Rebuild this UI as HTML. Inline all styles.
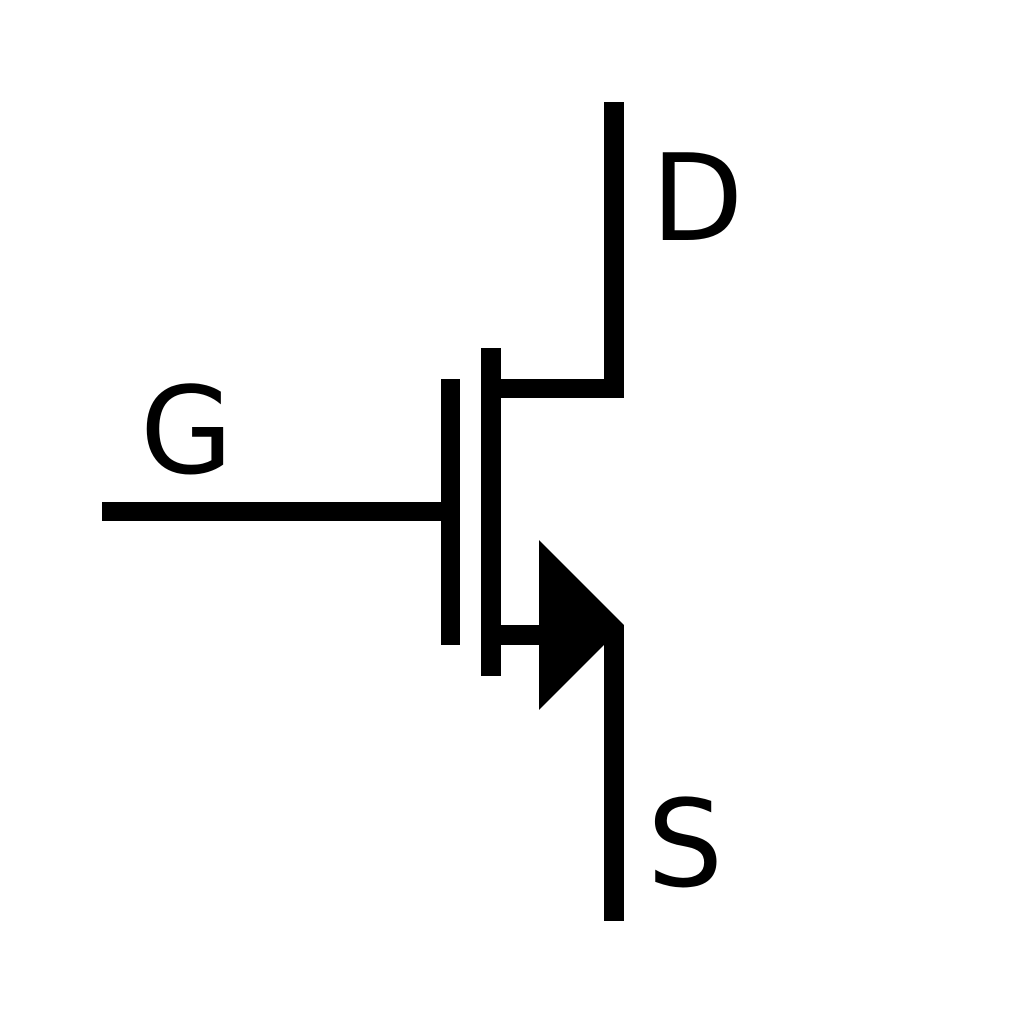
<!DOCTYPE html>
<html><head><meta charset="utf-8"><style>
html,body{margin:0;padding:0;background:#fff;width:1024px;height:1024px;overflow:hidden}
svg text{font-family:"DejaVu Sans","Liberation Sans",sans-serif;font-size:120px;fill:#000}
</style></head><body>
<svg width="1024" height="1024" viewBox="0 0 1024 1024">
<rect x="0" y="0" width="1024" height="1024" fill="#fff"/>
<g fill="#000">
<rect x="604" y="102" width="20" height="296"/>
<rect x="491" y="379" width="133" height="19"/>
<rect x="441" y="379" width="19" height="266"/>
<rect x="481" y="348" width="20" height="328"/>
<rect x="102" y="502" width="358" height="19"/>
<rect x="491" y="625" width="70" height="20"/>
<polygon points="539,540 539,710 624,625"/>
<rect x="604" y="625" width="20" height="296"/>
</g>
<text x="651" y="240">D</text>
<text x="140" y="473">G</text>
<text x="647" y="886">S</text>
</svg>
</body></html>
